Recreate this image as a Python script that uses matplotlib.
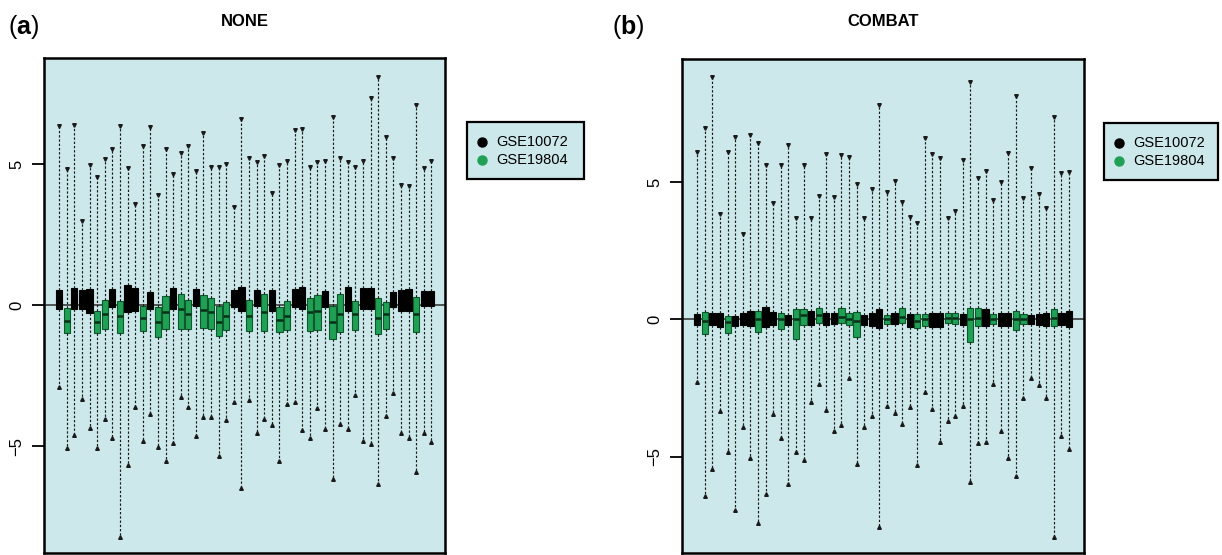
"""Boxplots per sample before (NONE) and after (COMBAT) batch correction."""

import matplotlib
matplotlib.use("Agg")
import matplotlib.pyplot as plt
from matplotlib.patches import Rectangle

plt.rcParams["font.family"] = ["Liberation Sans", "DejaVu Sans"]
plt.rcParams["mathtext.fontset"] = "custom"
plt.rcParams["mathtext.rm"] = "Liberation Sans"
plt.rcParams["mathtext.bf"] = "Liberation Sans:bold"

BATCHES = ["GSE10072", "GSE19804"]
BATCH_COLORS = ["#000000", "#1fa055"]
BATCH_EDGES = ["#000000", "#0c5a2c"]
BG = "#cde8ea"

# ---- panel (a): NONE ------------------------------------------------------
none_batch = [0, 1, 0, 0, 0, 1, 1, 0, 1, 0,
              0, 1, 0, 1, 1, 0, 1, 1, 0, 1,
              1, 1, 1, 0, 0, 1, 0, 1, 0, 1,
              1, 0, 0, 1, 1, 0, 1, 1, 0, 1,
              0, 0, 1, 1, 0, 0, 0, 1, 0, 0]
none_hi = [6.35, 4.82, 6.38, 2.98, 4.96, 4.53, 5.17, 5.52, 6.35, 4.85,
           3.58, 5.64, 6.30, 3.90, 5.54, 4.63, 5.40, 5.65, 4.76, 6.11,
           4.91, 4.91, 4.99, 3.46, 6.58, 5.20, 5.06, 5.28, 3.96, 4.96,
           5.12, 6.21, 6.25, 4.88, 5.06, 5.12, 6.68, 5.20, 5.08, 4.88,
           5.12, 7.33, 8.10, 5.95, 5.20, 4.26, 4.22, 7.09, 4.85, 5.11]
none_lo = [-2.90, -5.05, -4.61, -3.33, -4.37, -5.08, -4.05, -4.73, -8.22, -5.67,
           -3.61, -4.81, -3.87, -5.02, -5.52, -4.88, -3.25, -3.63, -4.65, -3.96,
           -3.96, -5.35, -4.08, -3.43, -6.47, -3.37, -4.55, -4.04, -4.26, -5.53,
           -3.52, -3.43, -4.43, -4.70, -3.64, -4.40, -6.18, -4.20, -4.41, -3.19,
           -4.82, -4.91, -6.36, -3.94, -3.13, -4.53, -4.70, -5.91, -4.53, -4.87]
none_q3 = [0.53, -0.12, 0.61, 0.53, 0.56, -0.21, 0.18, 0.56, 0.15, 0.71,
           0.61, -0.04, 0.47, -0.08, 0.32, 0.61, 0.41, 0.18, 0.56, 0.35,
           0.24, -0.04, 0.12, 0.53, 0.65, 0.18, 0.53, 0.39, 0.53, -0.06,
           0.15, 0.56, 0.63, 0.24, 0.35, 0.51, -0.04, 0.38, 0.65, 0.15,
           0.61, 0.61, 0.24, 0.12, 0.47, 0.53, 0.56, 0.30, 0.50, 0.50]
none_med = [0.20, -0.56, 0.25, 0.20, 0.15, -0.61, -0.30, 0.25, -0.39, 0.25,
            0.20, -0.47, 0.15, -0.59, -0.24, 0.25, -0.15, -0.33, 0.25, -0.18,
            -0.24, -0.59, -0.38, 0.25, 0.20, -0.38, 0.25, -0.26, 0.15, -0.53,
            -0.38, 0.25, 0.25, -0.26, -0.20, 0.20, -0.59, -0.30, 0.25, -0.32,
            0.25, 0.25, -0.47, -0.32, 0.20, 0.15, 0.15, -0.30, 0.20, 0.20]
none_q1 = [-0.15, -0.98, -0.15, -0.15, -0.27, -0.98, -0.86, -0.08, -0.98, -0.24,
           -0.21, -0.91, -0.15, -1.12, -0.84, -0.14, -0.84, -0.86, -0.04, -0.80,
           -0.84, -1.10, -0.89, -0.06, -0.21, -0.92, -0.04, -0.92, -0.21, -0.96,
           -0.89, -0.08, -0.15, -0.92, -0.89, -0.06, -1.22, -0.96, -0.20, -0.89,
           -0.15, -0.15, -1.04, -0.84, -0.08, -0.20, -0.21, -0.96, -0.04, -0.04]

# ---- panel (b): COMBAT ----------------------------------------------------
combat_batch = [0, 1, 0, 0, 1, 0, 0, 0, 1, 0,
                0, 1, 0, 1, 1, 0, 1, 0, 0, 1,
                1, 1, 0, 0, 0, 1, 0, 1, 0, 1,
                1, 0, 0, 1, 1, 0, 1, 1, 0, 1,
                0, 0, 1, 1, 0, 0, 0, 1, 0, 0]
combat_hi = [6.10, 6.97, 8.80, 3.83, 6.10, 6.64, 3.10, 6.70, 6.40, 5.61,
             4.22, 5.61, 6.33, 3.67, 5.61, 3.67, 4.50, 6.00, 4.46, 5.98,
             5.89, 4.92, 3.67, 4.73, 7.79, 4.64, 5.03, 4.25, 3.73, 3.49,
             6.58, 6.00, 5.87, 3.67, 3.95, 5.79, 8.64, 5.13, 5.41, 4.34,
             5.01, 6.06, 8.12, 4.40, 5.52, 4.55, 4.06, 7.35, 5.33, 5.37]
combat_lo = [-2.27, -6.41, -5.44, -3.33, -4.81, -6.93, -3.90, -5.05, -7.42, -6.36,
             -3.44, -4.33, -6.00, -4.84, -5.12, -3.02, -2.36, -3.30, -4.05, -3.84,
             -2.15, -5.27, -3.90, -3.50, -7.56, -3.14, -3.39, -3.81, -3.20, -5.30,
             -2.63, -3.27, -4.47, -3.70, -3.52, -3.15, -5.90, -4.51, -4.45, -2.36,
             -4.08, -5.05, -5.70, -2.87, -2.15, -2.39, -2.87, -7.90, -4.24, -4.72]
combat_q3 = [0.19, 0.28, 0.22, 0.24, 0.12, 0.12, 0.22, 0.31, 0.31, 0.46,
             0.28, 0.22, 0.16, 0.36, 0.36, 0.31, 0.40, 0.22, 0.24, 0.40,
             0.24, 0.28, 0.16, 0.22, 0.36, 0.16, 0.22, 0.40, 0.19, 0.19,
             0.19, 0.24, 0.24, 0.24, 0.24, 0.19, 0.40, 0.40, 0.36, 0.19,
             0.22, 0.24, 0.31, 0.19, 0.16, 0.19, 0.22, 0.36, 0.22, 0.31]
combat_med = [0.00, -0.05, 0.00, -0.02, -0.08, 0.00, 0.00, 0.02, 0.00, 0.05,
              0.00, 0.00, 0.00, 0.00, 0.16, 0.00, 0.16, 0.02, 0.00, 0.10,
              0.00, -0.05, 0.00, 0.00, 0.00, 0.00, 0.00, 0.10, 0.00, -0.05,
              0.02, 0.00, 0.00, 0.05, 0.05, 0.00, 0.00, 0.05, 0.00, 0.02,
              0.00, 0.00, 0.02, 0.00, 0.00, 0.00, 0.00, 0.05, 0.00, 0.00]
combat_q1 = [-0.21, -0.53, -0.21, -0.27, -0.48, -0.25, -0.21, -0.24, -0.45, -0.27,
             -0.21, -0.36, -0.21, -0.73, -0.21, -0.21, -0.15, -0.21, -0.18, -0.15,
             -0.21, -0.63, -0.21, -0.24, -0.33, -0.18, -0.18, -0.15, -0.27, -0.33,
             -0.24, -0.27, -0.27, -0.15, -0.18, -0.21, -0.82, -0.24, -0.24, -0.18,
             -0.24, -0.24, -0.39, -0.18, -0.18, -0.21, -0.24, -0.24, -0.21, -0.27]

W, H = 1222, 555


def fx(px):
    return px / W


def fy(py):
    return 1 - py / H


def draw_panel(ax, batch, lo, q1, med, q3, hi, ylim, xlim):
    ax.set_facecolor(BG)
    stats = [dict(whislo=lo[i], q1=q1[i], med=med[i], q3=q3[i], whishi=hi[i], fliers=[])
             for i in range(len(batch))]
    pos = list(range(1, len(batch) + 1))
    bp = ax.bxp(stats, positions=pos, widths=0.82, patch_artist=True,
                showcaps=False, showfliers=False,
                whiskerprops=dict(color="#1a1a1a", lw=0.85, linestyle=(0, (2.0, 1.6))),
                medianprops=dict(lw=1.8),
                boxprops=dict(lw=0.8))
    for i, b in enumerate(batch):
        bp["boxes"][i].set_facecolor(BATCH_COLORS[b])
        bp["boxes"][i].set_edgecolor(BATCH_EDGES[b])
        bp["medians"][i].set_color("#0a2e17" if b else "black")
    # small whisker end marks
    ax.plot(pos, hi, "v", ms=2.6, color="#1a1a1a", ls="none")
    ax.plot(pos, lo, "^", ms=2.6, color="#1a1a1a", ls="none")
    ax.axhline(0, color="#3a3a3a", lw=1.2, zorder=0.9)
    ax.set_xlim(*xlim)
    ax.set_ylim(*ylim)
    ax.set_xticks([])
    ax.set_yticks([-5, 0, 5])
    ax.set_yticklabels(["\u22125", "0", "5"], rotation=90, va="center", fontsize=12)
    ax.tick_params(axis="y", length=9, width=1.3, pad=5)
    for s in ax.spines.values():
        s.set_linewidth(1.8)


def draw_legend(fig, left, top, width, height):
    fig.patches.append(Rectangle((fx(left), fy(top + height)), fx(width), height / H,
                                 transform=fig.transFigure, facecolor=BG,
                                 edgecolor="black", lw=1.6))
    for k, name in enumerate(BATCHES):
        yy = fy(top + 20 + 18 * k)
        fig.lines.append(plt.Line2D([fx(left + 15)], [yy], marker="o", ms=6.5,
                                    color=BATCH_COLORS[k], transform=fig.transFigure))
        fig.text(fx(left + 29), yy, name, fontsize=10.5, va="center", ha="left")


fig = plt.figure(figsize=(W / 100, H / 100), dpi=100)
ax_a = fig.add_axes([fx(44), 2 / H, fx(401), 495 / H])
ax_b = fig.add_axes([fx(682), 2 / H, fx(402), 494 / H])

draw_panel(ax_a, none_batch, none_lo, none_q1, none_med, none_q3, none_hi,
           (-8.79, 8.76), (-1.0, 51.8))
draw_panel(ax_b, combat_batch, combat_lo, combat_q1, combat_med, combat_q3, combat_hi,
           (-8.50, 9.47), (-1.02, 51.98))

fig.text(fx(244.5), fy(21), "NONE", fontsize=12, weight="bold", ha="center", va="center")
fig.text(fx(883), fy(21), "COMBAT", fontsize=12, weight="bold", ha="center", va="center")
fig.text(fx(8), fy(27), r"($\mathbf{a}$)", fontsize=18, ha="left", va="center")
fig.text(fx(612), fy(27), r"($\mathbf{b}$)", fontsize=18, ha="left", va="center")

draw_legend(fig, 467, 122, 117, 57)
draw_legend(fig, 1104, 123, 114, 57)

fig.savefig("out.png", dpi=100)
